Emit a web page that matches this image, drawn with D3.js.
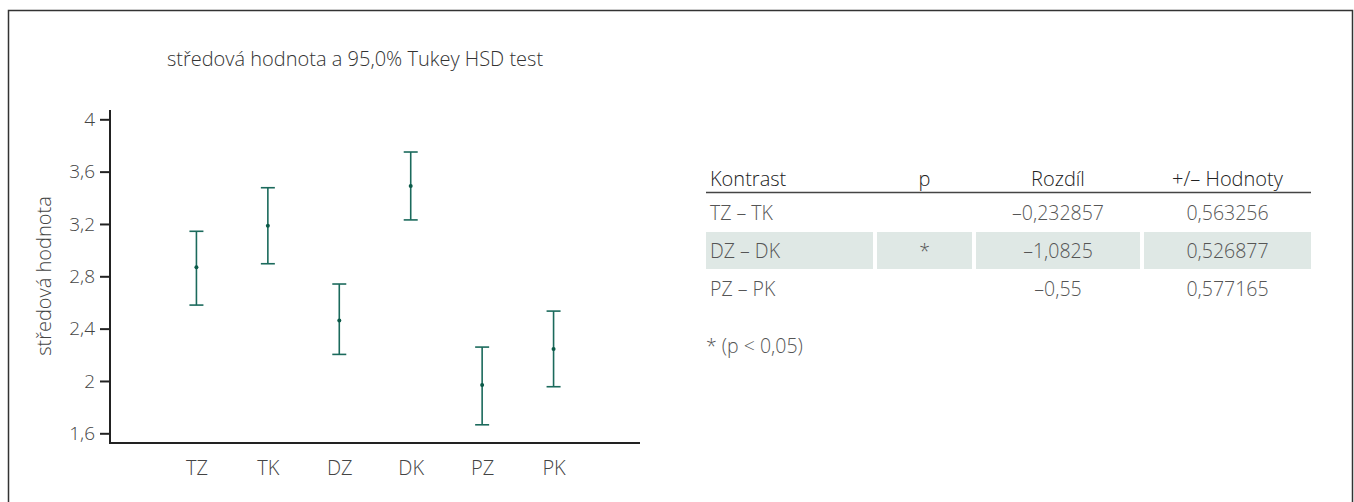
<!DOCTYPE html>
<html>
<head>
<meta charset="utf-8">
<script src="https://cdn.jsdelivr.net/npm/d3@7"></script>
<style>
  html, body { margin: 0; padding: 0; background: #fff; }
  svg { display: block; }
  text { font-family: "Open Sans", "Noto Sans", sans-serif; font-weight: 300; }
</style>
</head>
<body>
<svg id="chart" width="1354" height="502"></svg>
<script>
// ---- data ----
const categories = ["TZ", "TK", "DZ", "DK", "PZ", "PK"];
const means      = [2.869, 3.187, 2.463, 3.490, 1.969, 2.244];
const lower      = [2.580, 2.896, 2.203, 3.231, 1.665, 1.956];
const upper      = [3.144, 3.477, 2.741, 3.750, 2.259, 2.534];
const yTicks     = [1.6, 2, 2.4, 2.8, 3.2, 3.6, 4];
const chartTitle = "středová hodnota a 95,0% Tukey HSD test";
const yLabel     = "středová hodnota";

const tableHeader   = ["Kontrast", "p", "Rozdíl", "+/– Hodnoty"];
const contrasts     = ["TZ – TK", "DZ – DK", "PZ – PK"];
const pMarks        = ["", "*", ""];
const differences   = ["–0,232857", "–1,0825", "–0,55"];
const limits        = ["0,563256", "0,526877", "0,577165"];
const highlighted   = [false, true, false];
const footnote      = "* (p < 0,05)";

// ---- drawing ----
const svg = d3.select("#chart");
const teal = "#1b6a5c";
const FF = "'Open Sans', 'Noto Sans', sans-serif";

// outer frame (open at bottom)
svg.append("path")
  .attr("d", "M8.5,502 L8.5,10.5 L1352.5,10.5 L1352.5,502")
  .attr("fill", "none").attr("stroke", "#333").attr("stroke-width", 1.5);

const x = d3.scalePoint().domain(categories).range([110, 640]).padding(1.21);
const y = d3.scaleLinear().domain([1.6, 4]).range([433.3, 119.3]);

// title
svg.append("text").attr("x", 355).attr("y", 66).attr("text-anchor", "middle")
  .attr("font-size", 20).attr("fill", "#333").text(chartTitle);

// y axis
const yAxis = svg.append("g").attr("transform", "translate(110,0)")
  .call(d3.axisLeft(y).tickValues(yTicks).tickSize(10).tickPadding(5)
    .tickFormat(d => String(d).replace(".", ",")));
yAxis.select(".domain").remove();
yAxis.selectAll(".tick line").attr("stroke", "#222").attr("stroke-width", 2);
yAxis.selectAll(".tick text").attr("font-size", 19).attr("fill", "#444")
  .attr("font-family", FF).attr("font-weight", 300);
svg.append("line").attr("x1", 110).attr("x2", 110).attr("y1", 110).attr("y2", 444)
  .attr("stroke", "#222").attr("stroke-width", 2);

// x axis
const xAxis = svg.append("g").attr("transform", "translate(0,443)")
  .call(d3.axisBottom(x).tickSize(0));
xAxis.select(".domain").remove();
xAxis.selectAll(".tick text").attr("font-size", 20).attr("fill", "#444")
  .attr("font-family", FF).attr("font-weight", 300)
  .attr("y", 32).attr("dy", null);
svg.append("line").attr("x1", 109).attr("x2", 640).attr("y1", 443).attr("y2", 443)
  .attr("stroke", "#222").attr("stroke-width", 2);

// y label
svg.append("text").attr("transform", "translate(51,276) rotate(-90)")
  .attr("text-anchor", "middle").attr("font-size", 20).attr("fill", "#444").text(yLabel);

// error bars
const bars = svg.append("g").selectAll("g").data(categories).join("g");
bars.append("line")
  .attr("x1", d => x(d)).attr("x2", d => x(d))
  .attr("y1", (d, i) => y(upper[i])).attr("y2", (d, i) => y(lower[i]))
  .attr("stroke", teal).attr("stroke-width", 1.6);
bars.append("line")
  .attr("x1", d => x(d) - 7).attr("x2", d => x(d) + 7)
  .attr("y1", (d, i) => y(upper[i])).attr("y2", (d, i) => y(upper[i]))
  .attr("stroke", teal).attr("stroke-width", 1.6);
bars.append("line")
  .attr("x1", d => x(d) - 7).attr("x2", d => x(d) + 7)
  .attr("y1", (d, i) => y(lower[i])).attr("y2", (d, i) => y(lower[i]))
  .attr("stroke", teal).attr("stroke-width", 1.6);
bars.append("circle")
  .attr("cx", d => x(d)).attr("cy", (d, i) => y(means[i])).attr("r", 2)
  .attr("fill", "#0b5a48");

// table
const colEdges = [[706, 873], [877, 972], [976, 1140], [1144, 1311]];
const colAnchor = ["start", "middle", "middle", "middle"];
const colX = colEdges.map((e, i) => i === 0 ? e[0] + 4 : (e[0] + e[1]) / 2);
const rowTop = [194, 232, 270];
const rowH = 37;

const tbl = svg.append("g");
tableHeader.forEach((h, i) => {
  tbl.append("text").attr("x", colX[i]).attr("y", 186).attr("text-anchor", colAnchor[i])
    .attr("font-size", 20).attr("fill", "#222").attr("font-weight", 400).text(h);
});
tbl.append("line").attr("x1", 706).attr("x2", 1311).attr("y1", 192.5).attr("y2", 192.5)
  .attr("stroke", "#444").attr("stroke-width", 1.5);

const rows = contrasts.map((c, i) => [c, pMarks[i], differences[i], limits[i]]);
rows.forEach((r, ri) => {
  if (highlighted[ri]) {
    colEdges.forEach(e => {
      tbl.append("rect").attr("x", e[0]).attr("y", rowTop[ri]).attr("width", e[1] - e[0])
        .attr("height", rowH).attr("fill", "#dfe8e5");
    });
  }
  r.forEach((v, ci) => {
    tbl.append("text").attr("x", colX[ci]).attr("y", rowTop[ri] + 26)
      .attr("text-anchor", colAnchor[ci]).attr("font-size", 19.5).attr("fill", "#555").text(v);
  });
});
tbl.append("text").attr("x", 706).attr("y", 353).attr("font-size", 19.5).attr("fill", "#555").text(footnote);
</script>
</body>
</html>
